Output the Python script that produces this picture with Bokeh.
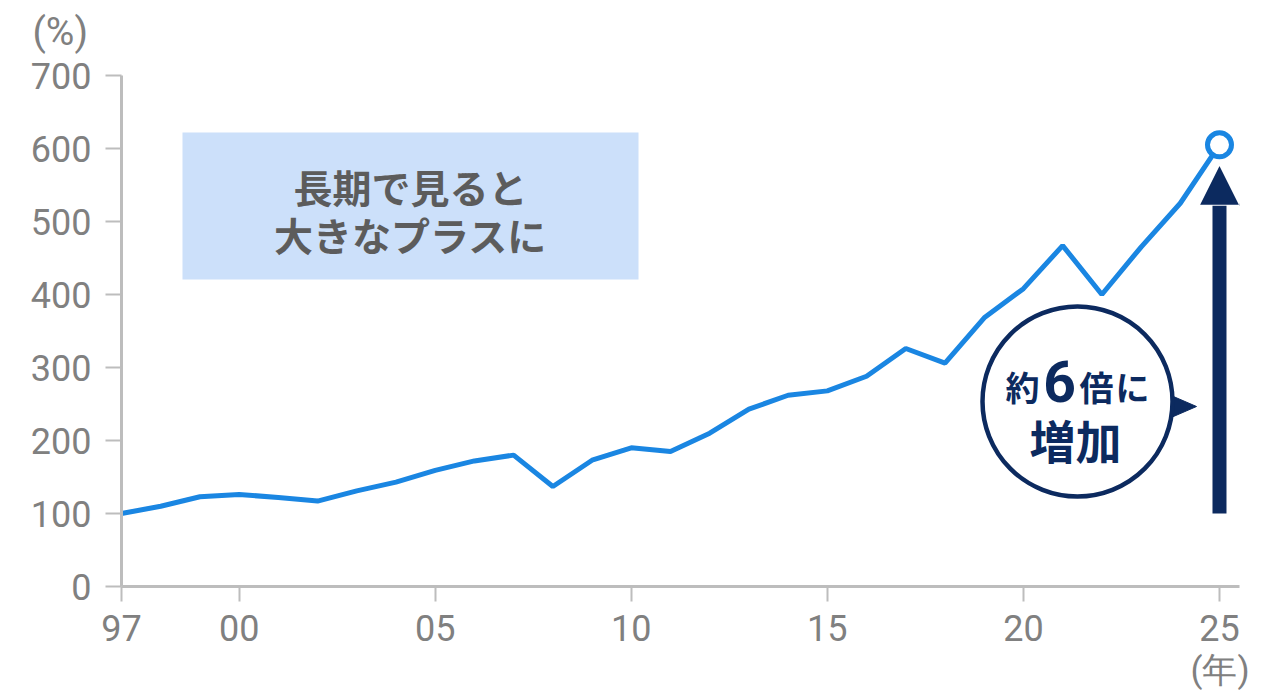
from bokeh.embed import file_html
from bokeh.models import Arrow, FixedTicker, Label, NormalHead, Range1d, Title
from bokeh.plotting import figure
from bokeh.resources import INLINE

# data (index, 1997 = 100)
years = list(range(1997, 2026))
values = [100, 110, 123, 126, 122, 117, 131, 143, 159, 172, 180, 137, 173, 190,
          185, 210, 243, 262, 268, 288, 326, 306, 368, 408, 467, 400, 465, 525,
          605]

x_ticks = [1997, 2000, 2005, 2010, 2015, 2020, 2025]
x_tick_labels = ["97", "00", "05", "10", "15", "20", "25"]
y_ticks = [0, 100, 200, 300, 400, 500, 600, 700]

box_lines = ["長期で見ると", "大きなプラスに"]

LINE_BLUE = "#1a86e2"
NAVY = "#0c2a5f"
GREY = "#808080"
AXIS_GREY = "#bdbdbd"
BOX_BLUE = "#cce0fa"
BOX_TEXT = "#5c5c5c"
CJK = "Noto Sans CJK JP"


# picture pixel -> data coordinates (1997 at x=121, 0 at y=586)
def px_x(px):
    return 1997 + (px - 121) / 39.214


def px_y(py):
    return (586 - py) / 0.73


p = figure(width=1264, height=700,
           x_range=Range1d(1997, px_x(1239)),
           y_range=Range1d(0, px_y(60)),
           output_backend="svg", toolbar_location=None,
           min_border_left=121, min_border_right=25,
           min_border_top=60, min_border_bottom=114)
p.outline_line_color = None
p.grid.visible = False
p.background_fill_color = "white"

for ax in (p.xaxis, p.yaxis):
    ax.axis_line_color = AXIS_GREY
    ax.axis_line_width = 3
    ax.major_tick_line_color = AXIS_GREY
    ax.major_tick_line_width = 2
    ax.major_tick_in = 0
    ax.minor_tick_line_color = None
    ax.major_label_text_font = "Roboto"
    ax.major_label_text_font_size = "36px"
    ax.major_label_text_color = GREY

p.xaxis.ticker = FixedTicker(ticks=x_ticks)
p.xaxis.major_label_overrides = dict(zip(x_ticks, x_tick_labels))
p.xaxis.bounds = (1997, px_x(1239))
p.xaxis.major_tick_out = 15
p.xaxis.major_label_standoff = 13

p.yaxis.ticker = FixedTicker(ticks=y_ticks)
p.yaxis.bounds = (0, 700)
p.yaxis.major_tick_out = 16
p.yaxis.major_label_standoff = 14

# unit labels
p.add_layout(Title(text="(%)", align="left", offset=-89, standoff=12,
                   vertical_align="bottom", text_font="Roboto",
                   text_font_size="39px", text_font_style="normal",
                   text_color=GREY), "above")
p.add_layout(Title(text="(年)", align="left", offset=1069, standoff=12,
                   vertical_align="top", text_font="Roboto",
                   text_font_size="35px", text_font_style="normal",
                   text_color=GREY), "below")

# message box
p.quad(left=px_x(182), right=px_x(638), top=px_y(132), bottom=px_y(279),
       fill_color=BOX_BLUE, line_color=None)
for text, py in zip(box_lines, [185, 233]):
    p.add_layout(Label(x=px_x(410), y=px_y(py), text=text,
                       text_align="center", text_baseline="middle",
                       text_font=CJK, text_font_size="39px",
                       text_font_style="bold", text_color=BOX_TEXT))

# the series
p.line(years, values, line_color=LINE_BLUE, line_width=5)

# growth arrow
p.add_layout(Arrow(end=NormalHead(size=42, fill_color=NAVY,
                                  line_color="white", line_width=2),
                   x_start=years[-1], y_start=values[0],
                   x_end=years[-1], y_end=values[-1] - 19 / 0.73,
                   line_color=NAVY, line_width=14))

p.scatter([years[-1]], [values[-1]], size=24, fill_color="white",
          line_color=LINE_BLUE, line_width=5)

# speech bubble
p.patch([px_x(1166), px_x(1196), px_x(1166)],
        [px_y(393), px_y(406), px_y(419)],
        fill_color=NAVY, line_color=NAVY)
p.scatter([px_x(1077)], [px_y(401)], size=190, fill_color="white",
          line_color=NAVY, line_width=4.5)

bubble = [("約", 1022, 386, CJK, "34px"),
          ("6", 1059, 381, "Roboto", "57px"),
          ("倍", 1096, 386, CJK, "34px"),
          ("に", 1132, 386, CJK, "34px"),
          ("増加", 1075, 438, CJK, "46px")]
for text, px, py, font, size in bubble:
    p.add_layout(Label(x=px_x(px), y=px_y(py), text=text,
                       text_align="center", text_baseline="middle",
                       text_font=font, text_font_size=size,
                       text_font_style="bold", text_color=NAVY))

open("out.html", "w").write(file_html(p, INLINE))
